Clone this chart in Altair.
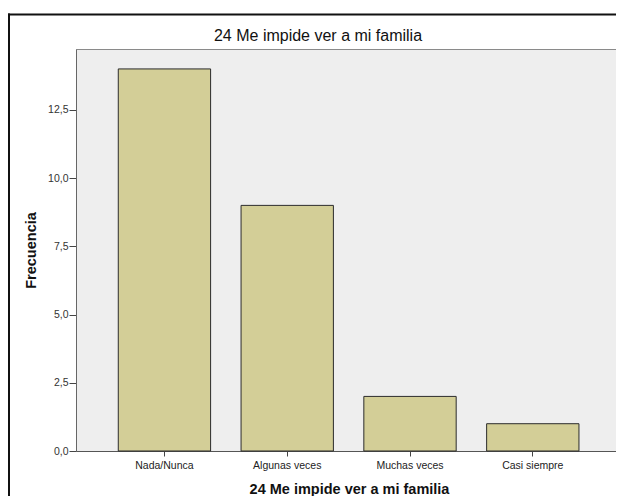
import altair as alt
import pandas as pd

categories = ["Nada/Nunca", "Algunas veces", "Muchas veces", "Casi siempre"]
frequencies = [14, 9, 2, 1]
y_ticks = [0, 2.5, 5, 7.5, 10, 12.5]
title_text = "24 Me impide ver a mi familia"

df = pd.DataFrame({"cat": categories, "freq": frequencies})
FONT = "Liberation Sans"

bars = alt.Chart(df).mark_bar(
    color="#D3CE97", stroke="#2b2b2b", strokeWidth=1
).encode(
    x=alt.X(
        "cat:N",
        sort=categories,
        scale=alt.Scale(paddingInner=0.248, paddingOuter=0.323, align=0.533),
        axis=alt.Axis(
            title=title_text,
            labelAngle=0,
            labelFont=FONT,
            labelFontSize=10.5,
            labelColor="#222222",
            labelPadding=4,
            tickSize=5,
            tickColor="#444444",
            domainColor="#555555",
            titleFont=FONT,
            titleFontSize=14.5,
            titleFontWeight="bold",
            titleColor="#111111",
            titleBaseline="alphabetic",
            titleX=273,
            titleY=42,
        ),
    ),
    y=alt.Y(
        "freq:Q",
        scale=alt.Scale(domain=[0, 14.73], nice=False),
        axis=alt.Axis(
            title="Frecuencia",
            values=y_ticks,
            labelExpr="replace(format(datum.value, '.1f'), '.', ',')",
            labelFont=FONT,
            labelFontSize=10.5,
            labelColor="#333333",
            labelPadding=1,
            tickSize=7,
            tickColor="#444444",
            domainColor="#666666",
            grid=False,
            titleFont=FONT,
            titleFontSize=14.5,
            titleFontWeight="bold",
            titleColor="#111111",
            titleAngle=-90,
            titleBaseline="alphabetic",
            titleAlign="center",
            titleX=-41,
            titleY=201,
        ),
    ),
)

frame_data = alt.Data(values=[{"k": 1}])
left_border = alt.Chart(frame_data).mark_rule(color="#111111", strokeWidth=2).encode(
    x=alt.value(-67), y=alt.value(-35.5), y2=alt.value(470)
)
top_border = alt.Chart(frame_data).mark_rule(color="#111111", strokeWidth=2).encode(
    x=alt.value(-68), x2=alt.value(560), y=alt.value(-34.5)
)
title_mark = alt.Chart(frame_data).mark_text(
    font=FONT, fontSize=16, fontWeight="normal", color="#111111",
    align="center", baseline="alphabetic"
).encode(
    x=alt.value(242), y=alt.value(-8), text=alt.value(title_text)
)

chart = alt.layer(bars, left_border, top_border, title_mark).properties(
    width=540,
    height=402,
    autosize=alt.AutoSizeParams(type="none"),
    padding={"left": 68, "top": 41, "right": 0, "bottom": 45},
    background="white",
).configure_view(
    fill="#EEEEEE", stroke="#8a8a8a", strokeWidth=1
)

chart.save("out.html", embed_options={"renderer": "svg", "actions": False})
